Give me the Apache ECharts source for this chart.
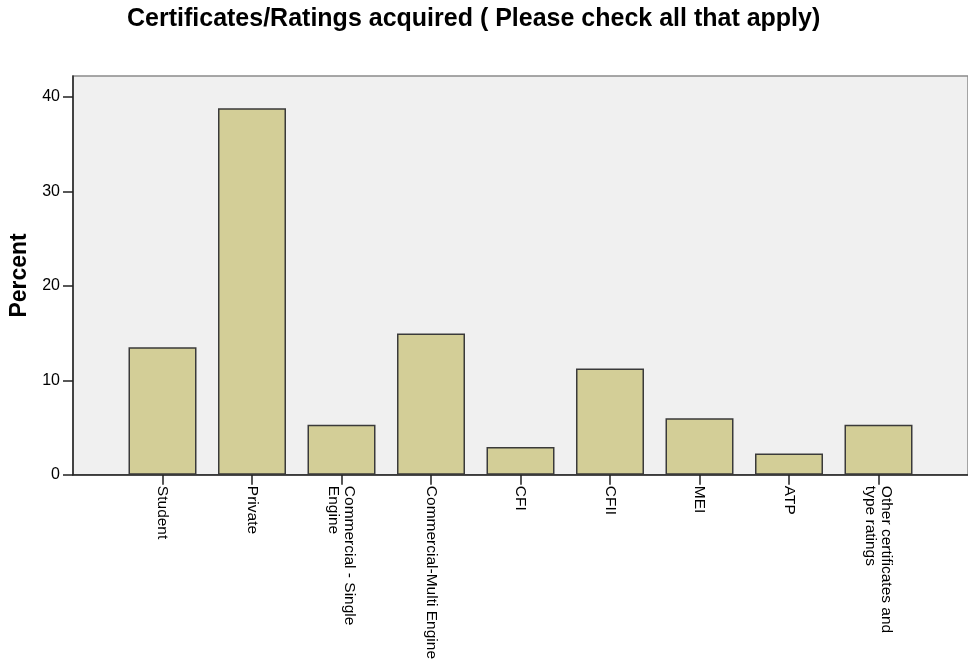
<!DOCTYPE html>
<html>
<head>
<meta charset="utf-8">
<script src="https://cdn.jsdelivr.net/npm/echarts@6/dist/echarts.min.js"></script>
<style>html,body{margin:0;padding:0;background:#fff}#c{width:968px;height:662px}</style>
</head>
<body>
<div id="c"></div>
<script>
var titleText = 'Certificates/Ratings acquired ( Please check all that apply)';
var categories = ['Student', 'Private', 'Commercial - Single\nEngine', 'Commercial-Multi Engine', 'CFI', 'CFII', 'MEI', 'ATP', 'Other certificates and\ntype ratings'];
var percents = [13.5, 38.8, 5.3, 14.95, 2.95, 11.25, 6.0, 2.25, 5.3];
var yTicks = [0, 10, 20, 30, 40];
var yAxisName = 'Percent';

var positions = categories.map(function (c, i) { return i; });
var barData = percents.map(function (v, i) { return [positions[i], v]; });
var font = "'Liberation Sans', Arial, sans-serif";

var chart = echarts.init(document.getElementById('c'), null, {renderer: 'canvas'});
chart.setOption({
  animation: false,
  backgroundColor: '#ffffff',
  title: {
    text: titleText,
    left: 122,
    top: 2,
    textStyle: {fontFamily: font, fontSize: 25, fontWeight: 'bold', color: '#000'}
  },
  grid: {
    left: 73, top: 76, width: 900, bottom: 185,
    show: true, backgroundColor: '#F0F0F0', borderColor: '#8a8a8a', borderWidth: 1.5
  },
  xAxis: {
    type: 'value', min: -1, max: 9, interval: 1,
    axisLine: {show: true, onZero: false, lineStyle: {color: '#222', width: 1.5}},
    axisTick: {show: true, length: 10, customValues: positions, lineStyle: {color: '#222', width: 1.5}},
    axisLabel: {
      customValues: positions, rotate: -90, margin: 11,
      fontFamily: font, fontSize: 15.5, color: '#000', lineHeight: 16,
      formatter: function (v) { return categories[Math.round(v)] || ''; }
    },
    splitLine: {show: false}
  },
  yAxis: {
    type: 'value', min: 0, max: 42.2, interval: 10,
    name: yAxisName, nameLocation: 'middle', nameGap: 40,
    nameTextStyle: {fontFamily: font, fontSize: 23, fontWeight: 'bold', color: '#000'},
    axisLine: {show: true, onZero: false, lineStyle: {color: '#222', width: 1.5}},
    axisTick: {show: true, length: 10, customValues: yTicks, lineStyle: {color: '#222', width: 1.5}},
    axisLabel: {customValues: yTicks, margin: 13, fontFamily: font, fontSize: 16, color: '#000'},
    splitLine: {show: false}
  },
  series: [{
    type: 'bar',
    data: barData,
    barWidth: 68,
    itemStyle: {color: '#D3CE97', borderColor: '#3a3a3a', borderWidth: 1.5}
  }]
});
</script>
</body>
</html>
